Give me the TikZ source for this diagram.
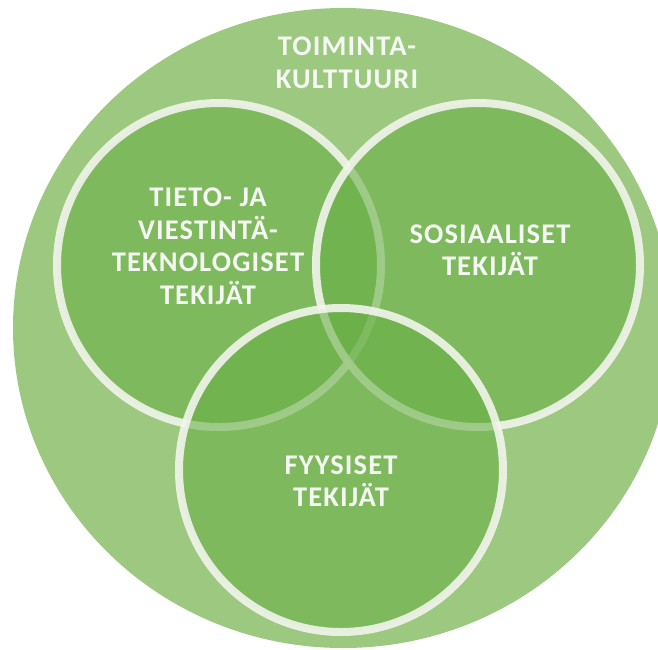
\documentclass[tikz,border=0pt]{standalone}
\usepackage{fontspec}
\newfontfamily\labfont{Carlito}[LetterSpace=4]
\definecolor{bgouter}{HTML}{9CC87F}
\definecolor{innerfill}{HTML}{68AF45}
\definecolor{ringcol}{HTML}{F2F5EC}
\definecolor{labcol}{HTML}{F6F9F3}
\tikzset{
  venn/.style={fill=innerfill, fill opacity=0.57, draw=ringcol, draw opacity=0.9, line width=8pt},
  lab/.style={text=labcol, align=center, inner sep=0pt, font=\labfont\bfseries\fontsize{28.5}{32.5}\selectfont}
}
\begin{document}
\begin{tikzpicture}[x=1pt,y=-1pt]
\useasboundingbox (0,0) rectangle (658,649);
\clip (0,0) rectangle (658,649);
\fill[bgouter] (343,328) ellipse [x radius=330, y radius=320];
\draw[venn] (219,265) circle [radius=162];
\draw[venn] (478,265) circle [radius=162];
\draw[venn] (341,470) circle [radius=162];
\node[lab] (culture) at (347,63) {TOIMINTA-\\KULTTUURI};
\node[lab] (ict) at (208,246) {TIETO- JA\\VIESTINTÄ-\\TEKNOLOGISET\\TEKIJÄT};
\node[lab] (social) at (490,250) {SOSIAALISET\\TEKIJÄT};
\node[lab] (physical) at (341,481) {FYYSISET\\TEKIJÄT};
\end{tikzpicture}
\end{document}
